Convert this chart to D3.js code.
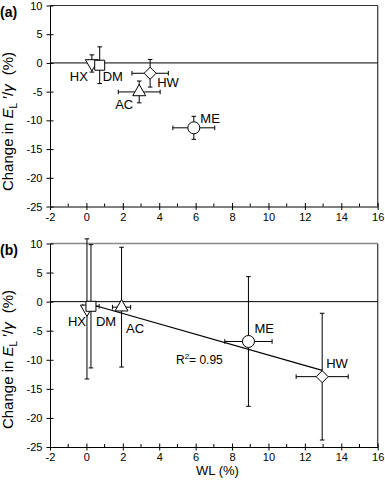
<!DOCTYPE html>
<html lang="en">
<head>
<meta charset="UTF-8">
<title>Change in EL/gamma vs WL</title>
<style>
  body { margin: 0; background: #fff; }
  svg { font-family: "Liberation Sans", Arial, sans-serif; }
</style>
</head>
<body>
<div id="chart"></div>
<script src="https://d3js.org/d3.v7.min.js"></script>
<script>
// data
var labels = ["HX", "DM", "AC", "ME", "HW"];
var shapes = ["triangleDown", "square", "triangle", "circle", "diamond"];

// panel (a)
var wlA = [0.3, 0.73, 2.9, 5.9, 3.5];
var wlErrA = [0, 0, 1.15, 1.15, 1.0];
var changeA = [-0.1, -0.4, -5.05, -11.3, -1.8];
var changeErrA = [1.5, 3.2, 1.9, 2.0, 2.4];

// panel (b)
var wlB = [0.03, 0.25, 1.93, 8.9, 12.95];
var wlErrB = [0, 0.45, 0.5, 1.3, 1.43];
var changeB = [-1.25, -0.8, -0.95, -6.85, -12.9];
var changeErrB = [12.05, 10.6, 10.3, 11.15, 10.9];

var xTicks = [-2, 0, 2, 4, 6, 8, 10, 12, 14, 16];
var xMinorTicks = [-1, 1, 3, 5, 7, 9, 11, 13, 15];
var yTicks = [10, 5, 0, -5, -10, -15, -20, -25];

// label offsets in px from the marker: [dx, dy, anchor]
var labelPosA = [[-4, 17, "end"], [3, 16, "start"], [-6, 17, "end"], [6.5, -4.5, "start"], [7, 14, "start"]];
var labelPosB = [[-1, 17, "end"], [5, 20, "start"], [4.5, 26, "start"], [6, -8.5, "start"], [4, -9, "start"]];

var W = 385, H = 486;
var left = 50, right = 377.7;

var svg = d3.select("#chart").append("svg")
    .attr("width", W)
    .attr("height", H);

// marker paths, centred on 0,0
function markerPath(kind) {
    if (kind == "circle") return d3.symbol(d3.symbolCircle, Math.PI * 36)();
    if (kind == "square") return "M-5,-5H5V5H-5Z";
    if (kind == "diamond") return "M0,-6L6,0L0,6L-6,0Z";
    if (kind == "triangle") return "M0,-7.5L6.5,3.8L-6.5,3.8Z";
    if (kind == "triangleDown") return "M0,7.5L6.5,-3.8L-6.5,-3.8Z";
}

function drawPanel(top, bottom, letter, wl, wlErr, change, changeErr, labelPos, withFit) {
    var x = d3.scaleLinear().domain([-2, 16]).range([left, right]);
    var y = d3.scaleLinear().domain([-25, 10]).range([bottom, top]);
    var g = svg.append("g");

    // frame: top + right lines
    g.append("line")
        .attr("x1", left).attr("x2", right)
        .attr("y1", top).attr("y2", top)
        .attr("stroke", letter == "(b)" ? "#8a8a8a" : "#333")
        .attr("stroke-width", letter == "(b)" ? 1.6 : 1);
    g.append("line")
        .attr("x1", right).attr("x2", right)
        .attr("y1", top).attr("y2", bottom)
        .attr("stroke", "#444").attr("stroke-width", 1.3);

    // axes (plain hyphen for negatives, like the original)
    var yAxis = d3.axisLeft(y).tickValues(yTicks).tickFormat(d => String(d))
        .tickSize(3.5).tickPadding(4).tickSizeOuter(0);
    var ga = g.append("g").attr("transform", "translate(" + left + ",0)").call(yAxis);
    ga.selectAll(".tick line").attr("x1", 3.5);
    ga.selectAll("text").style("font-size", "11px").style("font-family", "Liberation Sans, Arial, sans-serif");

    var xAxis = d3.axisBottom(x).tickValues(xTicks).tickFormat(d => String(d))
        .tickSize(3.5).tickPadding(3).tickSizeOuter(0);
    var gx = g.append("g").attr("transform", "translate(0," + bottom + ")").call(xAxis);
    gx.selectAll(".tick line").attr("y1", -3.5);
    gx.selectAll("text").style("font-size", "11px").style("font-family", "Liberation Sans, Arial, sans-serif");
    gx.selectAll(".minor").data(xMinorTicks).join("line")
        .attr("class", "minor")
        .attr("x1", d => x(d)).attr("x2", d => x(d))
        .attr("y1", 0).attr("y2", -3)
        .attr("stroke", "#000");
    svg.selectAll(".domain").attr("stroke", "#000");

    // zero line
    g.append("line")
        .attr("x1", left).attr("x2", right)
        .attr("y1", y(0)).attr("y2", y(0))
        .attr("stroke", "#000");

    var pts = labels.map(function (l, i) {
        return { name: l, shape: shapes[i], x: wl[i], xe: wlErr[i], y: change[i], ye: changeErr[i], pos: labelPos[i] };
    });

    // error bars
    var eb = g.append("g").attr("stroke", "#000").attr("stroke-width", 1);
    pts.forEach(function (d) {
        eb.append("line").attr("x1", x(d.x)).attr("x2", x(d.x)).attr("y1", y(d.y + d.ye)).attr("y2", y(d.y - d.ye));
        [d.y + d.ye, d.y - d.ye].forEach(function (v) {
            eb.append("line").attr("x1", x(d.x) - 2.3).attr("x2", x(d.x) + 2.3).attr("y1", y(v)).attr("y2", y(v));
        });
        if (d.xe > 0) {
            eb.append("line").attr("x1", x(d.x - d.xe)).attr("x2", x(d.x + d.xe)).attr("y1", y(d.y)).attr("y2", y(d.y));
            [d.x - d.xe, d.x + d.xe].forEach(function (v) {
                eb.append("line").attr("x1", x(v)).attr("x2", x(v)).attr("y1", y(d.y) - 2.3).attr("y2", y(d.y) + 2.3);
            });
        }
    });

    // least squares line through the panel points
    if (withFit) {
        var mx = d3.mean(wl), my = d3.mean(change);
        var sxy = d3.sum(wl, (v, i) => (v - mx) * (change[i] - my));
        var sxx = d3.sum(wl, v => (v - mx) * (v - mx));
        var slope = sxy / sxx, icpt = my - slope * mx;
        var ext = d3.extent(wl);
        g.append("path")
            .attr("d", d3.line().x(d => x(d)).y(d => y(icpt + slope * d))(ext))
            .attr("stroke", "#000").attr("stroke-width", 1.2).attr("fill", "none");
        var r2 = g.append("text")
            .attr("x", x(4.92)).attr("y", y(-10.73))
            .style("font-size", "12px");
        r2.append("tspan").text("R");
        r2.append("tspan").attr("dy", -5).style("font-size", "8px").text("2");
        r2.append("tspan").attr("dy", 5).text("= 0.95");
    }

    // markers
    g.selectAll(".mk").data(pts).join("path")
        .attr("class", "mk")
        .attr("d", d => markerPath(d.shape))
        .attr("transform", d => "translate(" + x(d.x) + "," + y(d.y) + ")")
        .attr("fill", "#fff").attr("stroke", "#000").attr("stroke-width", 1);

    // point labels
    g.selectAll(".lb").data(pts).join("text")
        .attr("class", "lb")
        .attr("x", d => x(d.x) + d.pos[0])
        .attr("y", d => y(d.y) + d.pos[1])
        .attr("text-anchor", d => d.pos[2])
        .style("font-size", "13px")
        .text(d => d.name);

    // panel letter
    g.append("text")
        .attr("x", 0).attr("y", top + 11)
        .style("font-size", "14px").style("font-weight", "bold")
        .text(letter);

    // y title
    var yt = g.append("text")
        .attr("transform", "translate(13," + (top + 116) + ") rotate(-90)")
        .attr("text-anchor", "middle")
        .style("font-size", "15px");
    yt.append("tspan").text("Change in ");
    yt.append("tspan").style("font-style", "italic").text("E");
    yt.append("tspan").attr("dy", 4).style("font-size", "10px").text("L");
    yt.append("tspan").attr("dy", -4).text(" \u2032/");
    yt.append("tspan").style("font-style", "italic").text("\u03b3");
    yt.append("tspan").attr("dx", 9).text("(%)");
}

drawPanel(5.5, 206.5, "(a)", wlA, wlErrA, changeA, changeErrA, labelPosA, false);
drawPanel(243.5, 447, "(b)", wlB, wlErrB, changeB, changeErrB, labelPosB, true);

// x title
svg.append("text")
    .attr("x", 217.5).attr("y", 475)
    .attr("text-anchor", "middle")
    .style("font-size", "13px")
    .text("WL (%)");
</script>
</body>
</html>
